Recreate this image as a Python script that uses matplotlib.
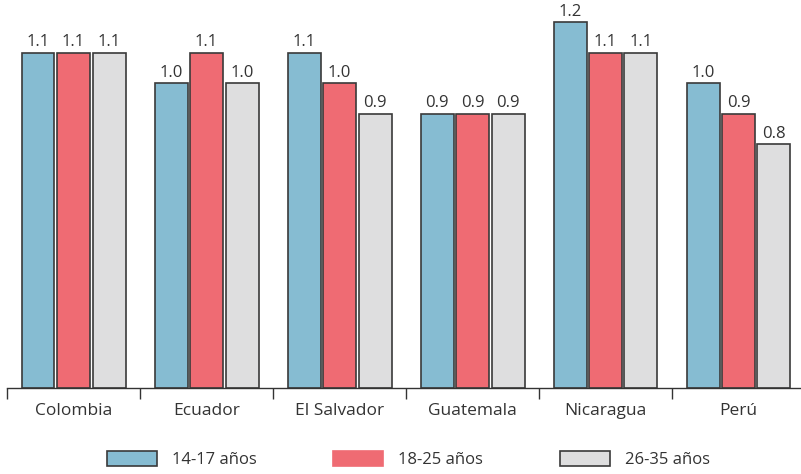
import numpy as np
import matplotlib.pyplot as plt
from matplotlib.patches import Patch

plt.rcParams['font.family'] = ['Open Sans', 'DejaVu Sans']

# datos
paises = ['Colombia', 'Ecuador', 'El Salvador', 'Guatemala', 'Nicaragua', 'Perú']
edad_14_17 = [1.1, 1.0, 1.1, 0.9, 1.2, 1.0]
edad_18_25 = [1.1, 1.1, 1.0, 0.9, 1.1, 0.9]
edad_26_35 = [1.1, 1.0, 0.9, 0.9, 1.1, 0.8]
series = ['14-17 años', '18-25 años', '26-35 años']
colores = ['#86bcd2', '#ef6b73', '#dededf']
borde = '#3a3a3a'

fig = plt.figure(figsize=(8.01, 4.74), dpi=100)
ax = fig.add_axes([7 / 801, 86 / 474, 798 / 801, 388 / 474])

x = np.arange(len(paises)) + 0.5
ancho = 33 / 133
paso = 35.5 / 133
for i, vals in enumerate([edad_14_17, edad_18_25, edad_26_35]):
    pos = x + (i - 1) * paso
    ax.bar(pos, vals, width=ancho, color=colores[i], edgecolor=borde, linewidth=1.2, zorder=2)
    for p, v in zip(pos, vals):
        ax.text(p, v + 0.008, f'{v:.1f}', ha='center', va='bottom', fontsize=12, color='#333333')

ax.set_xlim(0, 6)
ax.set_ylim(0, 388 / 305)
for s in ['top', 'right', 'left']:
    ax.spines[s].set_visible(False)
ax.spines['bottom'].set_color('#333333')
ax.spines['bottom'].set_linewidth(1.0)
ax.set_yticks([])
ax.set_xticks(np.arange(0, 7))
ax.set_xticklabels([])
ax.set_xticks(x, minor=True)
ax.set_xticklabels(paises, minor=True, fontsize=12.5, color='#333333')
ax.tick_params(axis='x', which='major', direction='out', length=8, width=1.0, color='#333333')
ax.tick_params(axis='x', which='minor', length=0, pad=11)

handles = [Patch(facecolor=colores[0], edgecolor=borde, linewidth=1.2),
           Patch(facecolor=colores[1], edgecolor=colores[1], linewidth=1.2),
           Patch(facecolor=colores[2], edgecolor=borde, linewidth=1.2)]
fig.legend(handles, series, loc='center', bbox_to_anchor=(0.51, 0.03), ncol=3, frameon=False,
           fontsize=12, handlelength=3.0, handleheight=0.95, handletextpad=0.9,
           columnspacing=4.6, labelcolor='#333333')

fig.savefig('out.png', dpi=100)
